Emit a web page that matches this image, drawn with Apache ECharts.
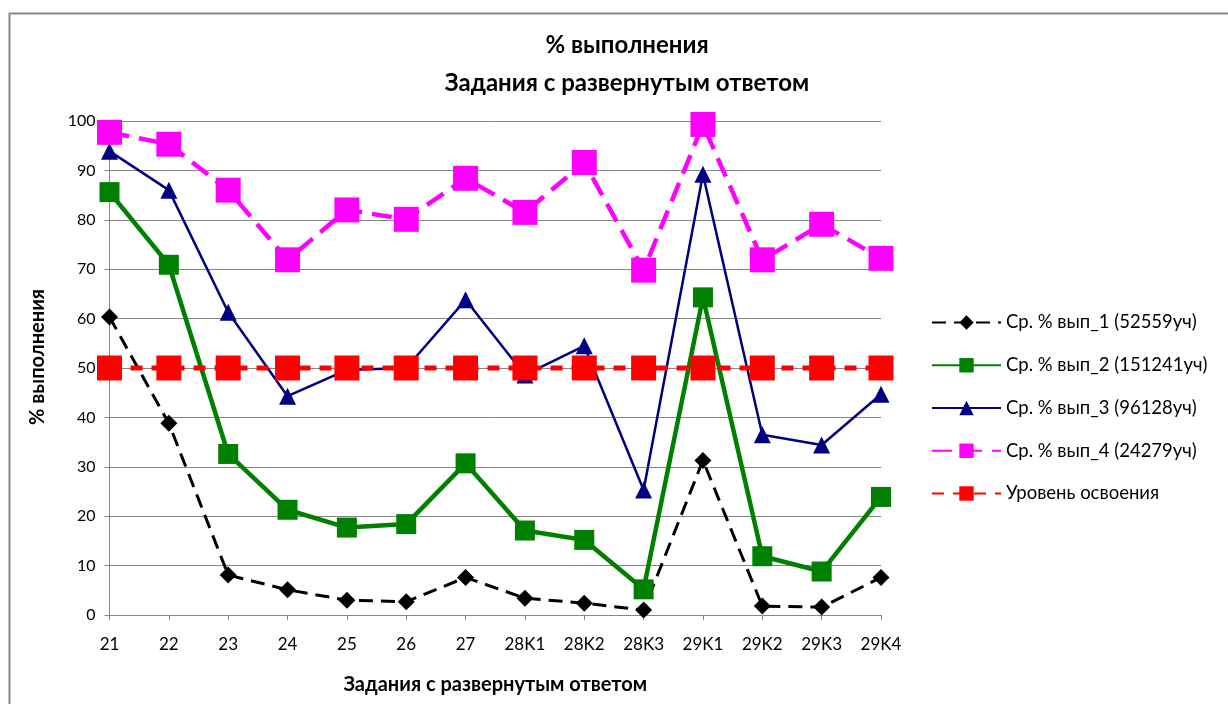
<!DOCTYPE html>
<html>
<head>
<meta charset="utf-8">
<script src="https://cdn.jsdelivr.net/npm/echarts@6/dist/echarts.min.js"></script>
<style>html,body{margin:0;padding:0;background:#fff}#c{width:1228px;height:704px}</style>
</head>
<body>
<div id="c"></div>
<script>
const categories = ['21','22','23','24','25','26','27','28K1','28K2','28K3','29K1','29K2','29K3','29K4'];
const s1 = [60.3, 38.8, 8.1, 5.1, 3.0, 2.7, 7.6, 3.4, 2.4, 1.0, 31.3, 1.8, 1.6, 7.6];
const s2 = [85.6, 70.9, 32.6, 21.3, 17.7, 18.4, 30.7, 17.1, 15.2, 5.2, 64.3, 11.9, 8.8, 23.9];
const s3 = [93.9, 86.0, 61.3, 44.3, 49.6, 50.0, 63.8, 48.6, 54.5, 25.3, 89.2, 36.5, 34.4, 44.7];
const s4 = [97.7, 95.3, 86.0, 71.9, 82.0, 80.1, 88.4, 81.5, 91.6, 69.8, 99.3, 71.9, 79.1, 72.2];
const level = [50, 50, 50, 50, 50, 50, 50, 50, 50, 50, 50, 50, 50, 50];
const seriesNames = ['Ср. % вып_1 (52559уч)', 'Ср. % вып_2 (151241уч)', 'Ср. % вып_3 (96128уч)', 'Ср. % вып_4 (24279уч)', 'Уровень освоения'];
const titleText = '% выполнения\nЗадания с развернутым ответом';
const xName = 'Задания с развернутым ответом';
const yName = '% выполнения';

const FONT = 'Lato, "Open Sans", "Noto Sans", sans-serif';
const chart = echarts.init(document.getElementById('c'), null, {renderer: 'canvas'});
const gridColor = '#868686';
chart.setOption({
  animation: false,
  backgroundColor: '#fff',
  textStyle: {fontFamily: FONT},
  graphic: [{
    type: 'rect', silent: true,
    shape: {x: 9.5, y: 13.5, width: 1400, height: 900},
    style: {fill: 'none', stroke: '#868686', lineWidth: 2}
  }, {
    type: 'text', silent: true, x: 38, y: 357, rotation: Math.PI / 2,
    style: {text: yName, font: 'bold 20px ' + FONT, fill: '#000', align: 'center', verticalAlign: 'middle'}
  }],
  title: {
    text: titleText, left: 622, top: 21, textAlign: 'center',
    textStyle: {fontFamily: FONT, fontSize: 24, fontWeight: 'bold', color: '#000', lineHeight: 38}
  },
  legend: {
    orient: 'vertical', left: 931, top: 313, padding: 0,
    itemWidth: 69, itemHeight: 18, itemGap: 23.75,
    textStyle: {fontFamily: FONT, fontSize: 18.5, color: '#000', lineHeight: 18},
    data: seriesNames
  },
  grid: {left: 109.5, right: 347, top: 121, bottom: 89, containLabel: false},
  xAxis: {
    type: 'category', data: categories, boundaryGap: false,
    name: xName, nameLocation: 'middle', nameGap: 60,
    nameTextStyle: {fontFamily: FONT, fontSize: 20, fontWeight: 'bold', color: '#000'},
    axisLine: {lineStyle: {color: gridColor, width: 1}},
    axisTick: {show: true, alignWithLabel: true, length: 5, inside: false, lineStyle: {color: gridColor}},
    axisLabel: {fontFamily: FONT, fontSize: 17, color: '#000', margin: 21, interval: 0},
    splitLine: {show: false}
  },
  yAxis: {
    type: 'value', min: 0, max: 100, interval: 10,
    axisLine: {show: true, lineStyle: {color: gridColor, width: 1}},
    axisTick: {show: true, length: 5, lineStyle: {color: gridColor}},
    axisLabel: {fontFamily: FONT, fontSize: 16, color: '#000', margin: 14},
    splitLine: {show: true, lineStyle: {color: gridColor, width: 1}}
  },
  series: [
    {name: seriesNames[0], type: 'line', data: s1, symbol: 'diamond', symbolSize: 17,
     itemStyle: {color: '#000'}, lineStyle: {color: '#000', width: 3, type: [14, 8]}},
    {name: seriesNames[1], type: 'line', data: s2, symbol: 'rect', symbolSize: 20,
     itemStyle: {color: '#008000'}, lineStyle: {color: '#008000', width: 4.5}},
    {name: seriesNames[2], type: 'line', data: s3, symbol: 'triangle', symbolSize: 17,
     itemStyle: {color: '#000080'}, lineStyle: {color: '#000080', width: 2.5}},
    {name: seriesNames[3], type: 'line', data: s4, symbol: 'rect', symbolSize: 25,
     itemStyle: {color: '#FF00FF'}, lineStyle: {color: '#FF00FF', width: 4.5, type: [20, 10]}},
    {name: seriesNames[4], type: 'line', data: level, symbol: 'rect', symbolSize: 25,
     itemStyle: {color: '#FF0000'}, lineStyle: {color: '#FF0000', width: 5, type: [12, 9]}}
  ]
});
</script>
</body>
</html>
